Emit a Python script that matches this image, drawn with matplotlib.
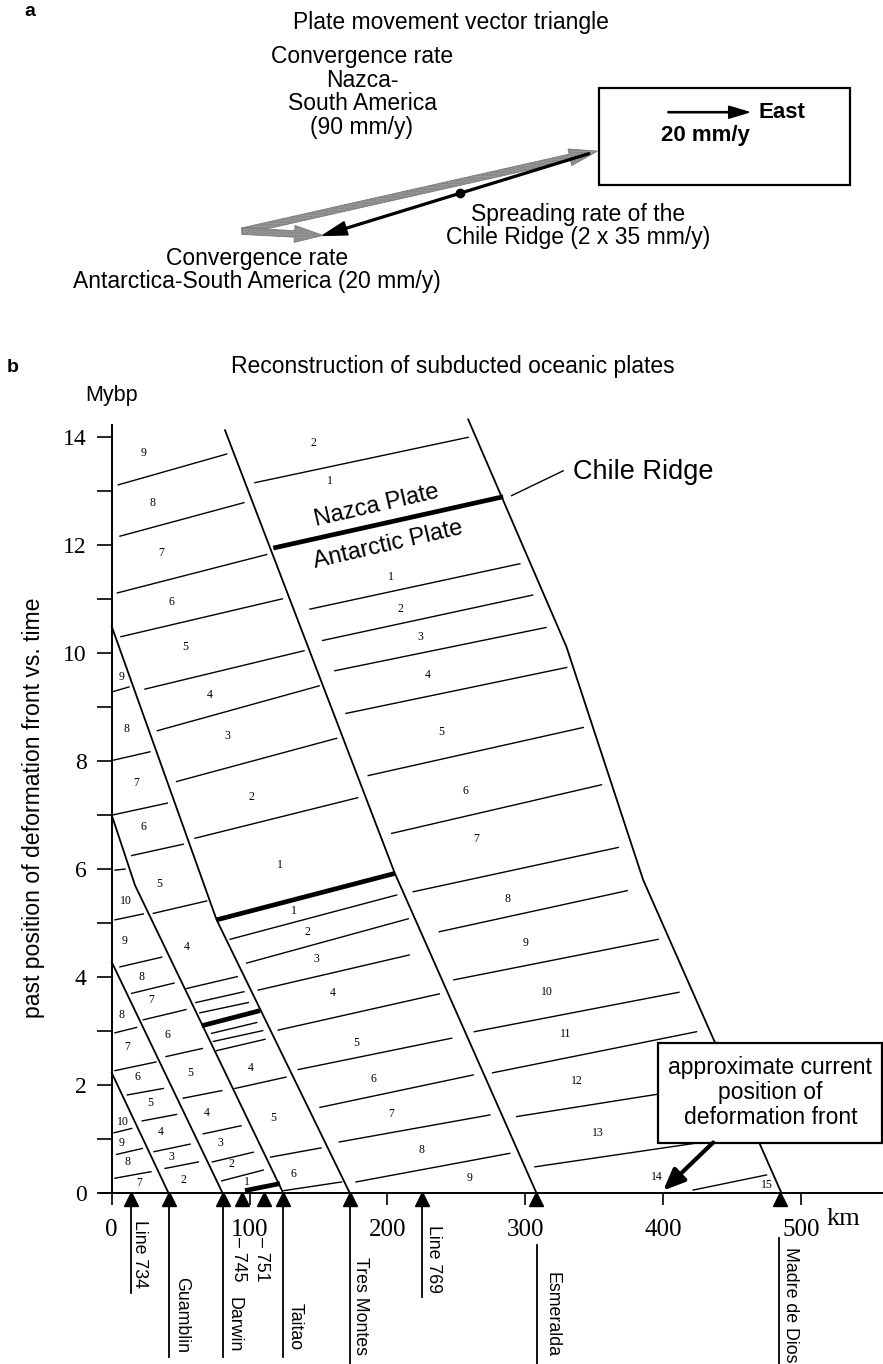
import numpy as np
import matplotlib
matplotlib.use("Agg")
import matplotlib.pyplot as plt
from matplotlib.patches import Rectangle, FancyArrow
from matplotlib import transforms

SANS = "Liberation Sans"
SERIF = "Liberation Serif"
W, H = 883, 1364

# ---- panel a: plate velocities (mm/y, angle in degrees north of east)
nazca_rate, nazca_angle = 90, 12.7
antarctic_rate, antarctic_angle = 20, -3.0
scale_rate = 20

# ---- panel b: deformation front positions (km along margin, Myr bp)
front1_km, front1_myr = [0.0, 41.3], [2.23, 0.0]
front2_km, front2_myr = [0.0, 80.5], [4.28, 0.0]
front3_km, front3_myr = [0.0, 16.9, 124.5], [7.00, 5.70, 0.0]
front4_km, front4_myr = [0.0, 76.1, 172.8], [10.49, 5.06, 0.0]
front5_km, front5_myr = [82.2, 205.4, 308.2], [14.12, 5.92, 0.0]
front6_km, front6_myr = [258.6, 329.9, 385.5, 485.9], [14.32, 10.11, 5.80, 0.0]

# subducted ridge segments (x0, y0, x1, y1)
ridge_segs = [(117.2, 11.94, 284.0, 12.89), (76.1, 5.06, 205.4, 5.92),
              (65.3, 3.10, 107.5, 3.38), (96.7, 0.05, 122.1, 0.18)]

# magnetic isochrons per strip (x0, y0, x1, y1) and anomaly numbers (text, x, y)
iso_a = [(1.7, 1.12, 14.5, 1.20), (3.6, 0.72, 22.2, 0.83), (2.4, 0.28, 28.5, 0.40)]
lab_a = [("10", 8.4, 1.32), ("9", 7.3, 0.94), ("8", 11.3, 0.57), ("7", 19.8, 0.19)]

iso_b = [(2.4, 2.97, 18.1, 3.07), (2.4, 2.27, 32.1, 2.43), (11.3, 1.82, 37.4, 1.94),
         (22.2, 1.34, 47.1, 1.46), (30.7, 0.77, 56.8, 0.91), (38.7, 0.46, 62.8, 0.58)]
lab_b = [("8", 7.3, 3.30), ("7", 11.3, 2.71), ("6", 18.6, 2.15), ("5", 27.8, 1.67),
         ("4", 35.8, 1.14), ("3", 43.0, 0.68), ("2", 51.9, 0.25)]

iso_c = [(2.4, 5.98, 9.6, 6.00), (2.4, 5.06, 22.9, 5.17), (6.0, 4.19, 36.3, 4.37),
         (14.5, 3.70, 45.2, 3.89), (22.9, 3.21, 53.9, 3.40), (39.4, 2.53, 65.7, 2.68),
         (51.9, 1.76, 79.8, 1.90), (66.4, 1.10, 93.8, 1.25), (73.0, 0.58, 102.7, 0.76),
         (79.8, 0.23, 109.9, 0.43)]
lab_c = [("10", 10.2, 5.41), ("9", 9.6, 4.67), ("8", 21.8, 4.01), ("7", 29.0, 3.58),
         ("6", 40.3, 2.93), ("5", 56.8, 2.23), ("4", 68.9, 1.49), ("3", 78.5, 0.94),
         ("2", 87.0, 0.54), ("1", 97.9, 0.21)]

iso_d = [(0.4, 9.28, 12.5, 9.37), (0.4, 8.01, 27.8, 8.17), (0.5, 7.00, 40.3, 7.22),
         (14.5, 6.25, 51.9, 6.46), (30.2, 5.18, 68.9, 5.41), (54.4, 3.79, 91.1, 4.01),
         (61.1, 3.53, 95.9, 3.73), (64.0, 3.34, 99.1, 3.53), (72.5, 2.96, 105.2, 3.16),
         (73.7, 2.81, 109.5, 3.01), (76.1, 2.64, 111.2, 2.85), (89.4, 1.94, 126.4, 2.15),
         (115.3, 0.67, 151.8, 0.84), (125.0, 0.05, 166.8, 0.21)]
lab_d = [("9", 7.3, 9.55), ("8", 10.4, 8.60), ("7", 17.6, 7.59), ("6", 22.9, 6.77),
         ("5", 34.5, 5.72), ("4", 54.8, 4.56), ("4", 100.8, 2.31), ("5", 117.2, 1.40),
         ("6", 131.7, 0.36)]

iso_e = [(4.8, 13.11, 83.4, 13.68), (6.0, 12.16, 95.9, 12.78), (4.1, 11.11, 112.4, 11.82),
         (6.7, 10.30, 123.7, 11.00), (24.1, 9.33, 139.5, 10.04), (33.1, 8.56, 150.5, 9.39),
         (47.1, 7.62, 163.2, 8.42), (60.4, 6.57, 178.4, 7.32), (85.8, 4.70, 206.7, 5.52),
         (97.9, 4.26, 215.1, 5.08), (106.3, 3.76, 215.8, 4.41), (120.8, 3.02, 237.6, 3.69),
         (135.3, 2.29, 246.6, 2.87), (151.1, 1.59, 262.2, 2.19), (165.1, 0.95, 274.3, 1.45),
         (177.2, 0.21, 288.8, 0.74)]
lab_e = [("9", 23.4, 13.70), ("8", 29.7, 12.78), ("7", 35.8, 11.84), ("6", 43.5, 10.95),
         ("5", 53.7, 10.10), ("4", 71.3, 9.22), ("3", 83.8, 8.46), ("2", 101.5, 7.34),
         ("1", 122.1, 6.08), ("1", 132.2, 5.23), ("2", 141.9, 4.84), ("3", 148.2, 4.33),
         ("4", 160.0, 3.71), ("5", 177.2, 2.79), ("6", 189.7, 2.11), ("7", 202.6, 1.46),
         ("8", 224.8, 0.81), ("9", 259.8, 0.28)]

iso_f = [(103.9, 13.15, 258.6, 13.99), (143.8, 10.81, 296.1, 11.65), (153.0, 10.23, 305.3, 11.07),
         (161.9, 9.67, 315.0, 10.47), (169.9, 8.88, 330.0, 9.73), (186.1, 7.73, 342.0, 8.62),
         (203.1, 6.66, 355.3, 7.56), (218.7, 5.58, 367.4, 6.40), (237.6, 4.84, 373.9, 5.60),
         (248.2, 3.95, 396.4, 4.70), (263.0, 2.99, 411.4, 3.72), (276.3, 2.23, 424.2, 2.99),
         (293.7, 1.42, 452.0, 2.06), (307.0, 0.49, 464.3, 1.08), (421.8, 0.06, 475.0, 0.34)]
lab_f = [("2", 146.2, 13.89), ("1", 158.3, 13.18), ("1", 202.3, 11.41), ("2", 209.1, 10.81),
         ("3", 224.1, 10.29), ("4", 229.6, 9.59), ("5", 239.3, 8.54), ("6", 256.7, 7.44),
         ("7", 264.4, 6.56), ("8", 286.9, 5.45), ("9", 300.5, 4.63), ("10", 315.9, 3.73),
         ("11", 329.5, 2.94), ("12", 337.2, 2.08), ("13", 352.9, 1.11), ("14", 395.2, 0.31),
         ("15", 475.0, 0.15)]

# survey lines / sites at the present trench (km)
site_km = [13.8, 41.3, 80.5, 94.3, 110.4, 124.5, 172.8, 225.0, 308.0, 484.6]
site_names = ["Line 734", "Guamblin", "\u2013 745", "Darwin", "\u2013 751", "Taitao",
              "Tres Montes", "Line 769", "Esmeralda", "Madre de Dios"]
site_text_km = [20.5, 50.8, 92.3, 88.7, 109.0, 133.4, 180.6, 233.2, 319.1, 492.4]
site_text_top = [-0.49, -1.55, -0.81, -1.92, -0.81, -2.03, -1.18, -0.59, -1.45, -1.0]
stem_km = [13.8, 41.3, 80.5, 124.5, 172.8, 225.0, 308.6, 484.1]
stem_top = [-0.22, -0.22, -0.22, -0.22, -0.22, -0.22, -0.96, -0.83]
stem_bottom = [-1.85, -3.03, -3.03, -3.03, -3.2, -1.91, -3.2, -3.2]


def fpos(px, py):
    return px / W, 1 - py / H


fig = plt.figure(figsize=(W / 100, H / 100), dpi=100)

# ================= panel a =================
ax_a = fig.add_axes([0, 1 - 300 / H, 1, 300 / H])
ax_a.set_xlim(-59.75, 158.3)
ax_a.set_ylim(-17.0, 57.1)
ax_a.axis("off")

na = np.deg2rad(nazca_angle)
aa = np.deg2rad(antarctic_angle)
nz = np.array([nazca_rate * np.cos(na), nazca_rate * np.sin(na)])
an = np.array([antarctic_rate * np.cos(aa), antarctic_rate * np.sin(aa)])

for tip in (nz, an):
    ax_a.add_patch(FancyArrow(0, 0, tip[0], tip[1], width=1.6, head_width=4.2,
                              head_length=7, length_includes_head=True,
                              facecolor="#9a9a9a", edgecolor="#7a7a7a", lw=0.6,
                              hatch="......", zorder=2))
ridge = an - nz
ax_a.add_patch(FancyArrow(nz[0] - 2, nz[1] - 0.6, ridge[0] + 2, ridge[1] + 0.6, width=0.45,
                          head_width=3.4, head_length=6, length_includes_head=True,
                          color="black", zorder=3))
mid = (nz + an) / 2
ax_a.plot(mid[0], mid[1], "o", color="black", ms=6, zorder=4)

fig.text(*fpos(30, 12), "a", fontsize=14, fontweight="bold", family=SANS, ha="center", va="center")
fig.text(*fpos(451, 22), "Plate movement vector triangle", fontsize=16.5, family=SANS,
         ha="center", va="center")
fig.text(*fpos(362, 92), "Convergence rate\nNazca-\nSouth America\n(90 mm/y)", fontsize=16.5,
         family=SANS, ha="center", va="center", linespacing=1.05)
fig.text(*fpos(578, 226), "Spreading rate of the\nChile Ridge (2 x 35 mm/y)", fontsize=16.5,
         family=SANS, ha="center", va="center", linespacing=1.05)
fig.text(*fpos(257, 270), "Convergence rate\nAntarctica-South America (20 mm/y)", fontsize=16.5,
         family=SANS, ha="center", va="center", linespacing=1.05)

# scale box
bx0, by0, bx1, by1 = 599, 88, 850, 185
fig.patches.append(Rectangle(fpos(bx0, by1), (bx1 - bx0) / W, (by1 - by0) / H,
                             transform=fig.transFigure, fill=False, lw=1.6, ec="black"))
sx0 = (668 - 242) / 4.05
sy0 = (231 - 112) / 4.05
ax_a.add_patch(FancyArrow(sx0, sy0, scale_rate, 0, width=0.3, head_width=3.0, head_length=5,
                          length_includes_head=True, color="black"))
fig.text(*fpos(758, 112), "East", fontsize=16, fontweight="bold", family=SANS, ha="left", va="center")
fig.text(*fpos(705, 135), f"{scale_rate} mm/y", fontsize=16, fontweight="bold", family=SANS,
         ha="center", va="center")

# ================= panel b =================
y_top = 14.4
px_per_myr = 54.04
ax = fig.add_axes([111.7 / W, (H - 1193.3) / H, (801 - 111.7) / W, y_top * px_per_myr / H])
ax.set_xlim(0, 500)
ax.set_ylim(0, y_top)
for s in ("top", "right", "bottom"):
    ax.spines[s].set_visible(False)
ax.spines["left"].set_bounds(0, 14.22)
ax.spines["left"].set_linewidth(1.4)
ax.set_xticks(range(0, 501, 100))
ax.set_yticks(range(0, 15, 2))
ax.set_yticks(range(1, 15, 2), minor=True)
ax.tick_params(axis="y", which="both", direction="out", length=11, width=1.2, pad=7,
               labelsize=17)
ax.tick_params(axis="x", direction="out", length=8.6, width=1.2, pad=10, labelsize=18)
for lbl in ax.get_xticklabels() + ax.get_yticklabels():
    lbl.set_family(SERIF)
ax.plot([-8.5, 560], [0, 0], color="black", lw=1.4, clip_on=False, zorder=3)

for xs, ys in [(front1_km, front1_myr), (front2_km, front2_myr), (front3_km, front3_myr),
               (front4_km, front4_myr), (front5_km, front5_myr), (front6_km, front6_myr)]:
    ax.plot(xs, ys, color="black", lw=1.3, clip_on=False, zorder=2)

for x0, y0, x1, y1 in ridge_segs:
    ax.plot([x0, x1], [y0, y1], color="black", lw=3.4, solid_capstyle="butt", zorder=3)

for segs, labs in [(iso_a, lab_a), (iso_b, lab_b), (iso_c, lab_c), (iso_d, lab_d),
                   (iso_e, lab_e), (iso_f, lab_f)]:
    for x0, y0, x1, y1 in segs:
        ax.plot([x0, x1], [y0, y1], color="black", lw=1.0, zorder=2)
    for t, x, y in labs:
        ax.text(x, y, t, fontsize=8.5, family=SERIF, ha="center", va="center")

ax.text(192.2, 12.73, "Nazca Plate", fontsize=17, family=SANS, rotation=13,
        ha="center", va="center", rotation_mode="anchor")
ax.text(200.6, 11.99, "Antarctic Plate", fontsize=17, family=SANS, rotation=13,
        ha="center", va="center", rotation_mode="anchor")
ax.plot([290.1, 327.5], [12.91, 13.37], color="black", lw=1.0)
ax.text(334.7, 13.35, "Chile Ridge", fontsize=19.5, family=SANS, ha="left", va="center")

# present-day deformation front callout
ax.add_patch(Rectangle((396.4, 0.936), 162.7, 1.851, facecolor="white", edgecolor="black",
                       lw=1.6, clip_on=False, zorder=6))
ax.text(477.8, 1.86, "approximate current\nposition of\ndeformation front", fontsize=16.5,
        family=SANS, ha="center", va="center", linespacing=1.1, zorder=7)
ax.annotate("", xy=(400.0, 0.05), xytext=(436.3, 0.94),
            arrowprops=dict(arrowstyle="-|>,head_length=1.3,head_width=0.55", lw=3,
                            color="black", shrinkA=0, shrinkB=0), zorder=7)

# sites
tri = transforms.offset_copy(ax.transData, fig=fig, x=0, y=-6, units="dots")
ax.plot(site_km, np.zeros(len(site_km)), "^", color="black", ms=10, transform=tri,
        clip_on=False, zorder=4)
for x, y0, y1 in zip(stem_km, stem_top, stem_bottom):
    ax.plot([x, x], [y0, y1], color="black", lw=1.3, clip_on=False)
for t, x, y in zip(site_names, site_text_km, site_text_top):
    ax.text(x, y, t, fontsize=12.8, family=SANS, rotation=-90, ha="center", va="top")

ax.text(531, -0.48, "km", fontsize=19, family=SERIF, ha="center", va="center")
fig.text(*fpos(112, 395), "Mybp", fontsize=15.5, family=SANS, ha="center", va="center")
fig.text(*fpos(34, 808), "past position of deformation front vs. time", fontsize=16.6,
         family=SANS, rotation=90, ha="center", va="center")
fig.text(*fpos(13, 367), "b", fontsize=14, fontweight="bold", family=SANS, ha="center", va="center")
fig.text(*fpos(453, 367), "Reconstruction of subducted oceanic plates", fontsize=16.5,
         family=SANS, ha="center", va="center")

fig.savefig("out.png", dpi=100)
